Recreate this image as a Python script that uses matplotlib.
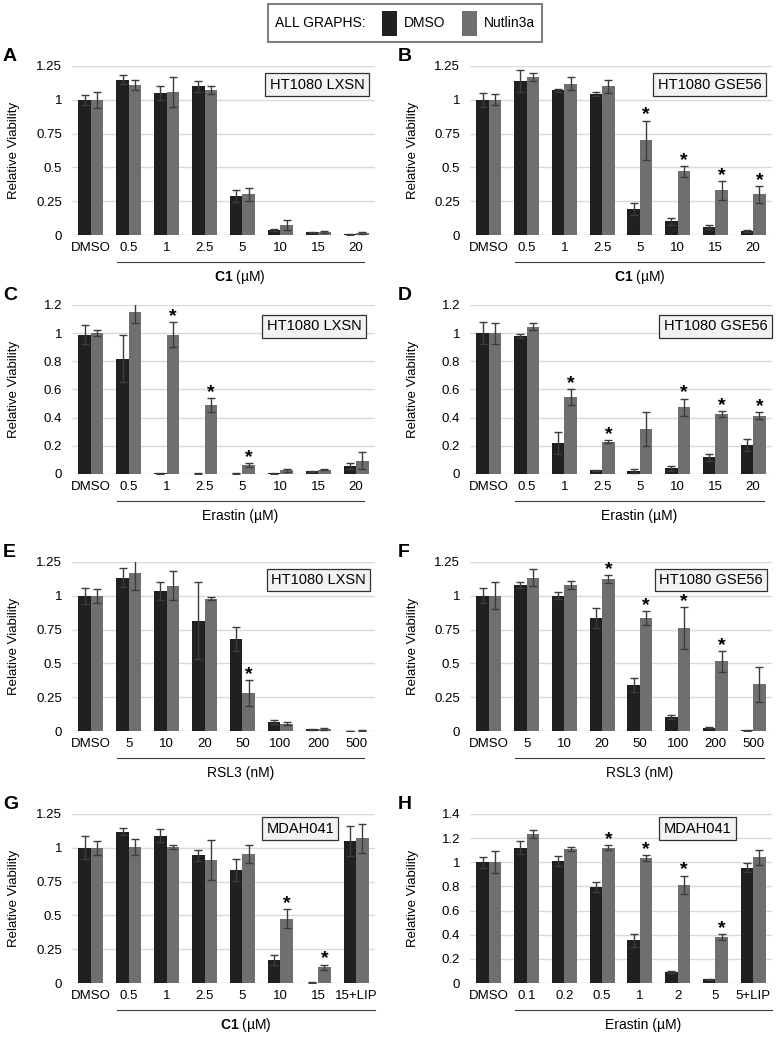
import numpy as np
import matplotlib
matplotlib.use('Agg')
import matplotlib.pyplot as plt
import matplotlib.transforms as mtransforms
from matplotlib.patches import Rectangle
from matplotlib.offsetbox import AnchoredOffsetbox, HPacker, TextArea, DrawingArea

plt.rcParams['font.family'] = ['Liberation Sans', 'DejaVu Sans']
plt.rcParams['mathtext.fontset'] = 'custom'
plt.rcParams['mathtext.rm'] = 'Liberation Sans'
plt.rcParams['mathtext.bf'] = 'Liberation Sans:bold'

DMSO_COLOR = '#202020'
NUT_COLOR = '#6f6f6f'
ERR_COLOR = '#3c3c3c'
GRID_COLOR = '#d9d9d9'

# %%
# categories
c1_cats = ['DMSO', '0.5', '1', '2.5', '5', '10', '15', '20']
erastin_cats = ['DMSO', '0.5', '1', '2.5', '5', '10', '15', '20']
rsl3_cats = ['DMSO', '5', '10', '20', '50', '100', '200', '500']
g_cats = ['DMSO', '0.5', '1', '2.5', '5', '10', '15', '15+LIP']
h_cats = ['DMSO', '0.1', '0.2', '0.5', '1', '2', '5', '5+LIP']

# A - C1, HT1080 LXSN
a_dmso = [1.00, 1.15, 1.05, 1.10, 0.29, 0.035, 0.02, 0.005]
a_dmso_err = [0.035, 0.03, 0.05, 0.04, 0.045, 0.008, 0.004, 0.003]
a_nut = [1.00, 1.11, 1.06, 1.07, 0.30, 0.075, 0.025, 0.015]
a_nut_err = [0.06, 0.04, 0.11, 0.03, 0.045, 0.035, 0.008, 0.008]
a_star = [0, 0, 0, 0, 0, 0, 0, 0]

# B - C1, HT1080 GSE56
b_dmso = [1.00, 1.14, 1.07, 1.04, 0.19, 0.10, 0.06, 0.03]
b_dmso_err = [0.05, 0.08, 0.01, 0.015, 0.045, 0.025, 0.012, 0.008]
b_nut = [1.00, 1.17, 1.12, 1.10, 0.70, 0.47, 0.33, 0.30]
b_nut_err = [0.04, 0.03, 0.05, 0.05, 0.145, 0.04, 0.07, 0.06]
b_star = [0, 0, 0, 0, 1, 1, 1, 1]

# C - Erastin, HT1080 LXSN
c_dmso = [0.99, 0.82, 0.005, 0.003, 0.003, 0.005, 0.02, 0.055]
c_dmso_err = [0.07, 0.165, 0.003, 0.002, 0.002, 0.002, 0.004, 0.02]
c_nut = [1.00, 1.15, 0.99, 0.49, 0.065, 0.025, 0.03, 0.095]
c_nut_err = [0.02, 0.08, 0.09, 0.05, 0.012, 0.01, 0.005, 0.06]
c_star = [0, 0, 1, 1, 1, 0, 0, 0]

# D - Erastin, HT1080 GSE56
d_dmso = [1.00, 0.98, 0.22, 0.025, 0.02, 0.04, 0.12, 0.205]
d_dmso_err = [0.08, 0.015, 0.075, 0.005, 0.015, 0.02, 0.025, 0.045]
d_nut = [1.00, 1.045, 0.545, 0.23, 0.32, 0.475, 0.425, 0.415]
d_nut_err = [0.075, 0.025, 0.055, 0.01, 0.12, 0.06, 0.02, 0.025]
d_star = [0, 0, 1, 1, 0, 1, 1, 1]

# E - RSL3, HT1080 LXSN
e_dmso = [1.00, 1.135, 1.035, 0.815, 0.68, 0.065, 0.012, 0.002]
e_dmso_err = [0.06, 0.07, 0.065, 0.285, 0.09, 0.015, 0.005, 0.001]
e_nut = [1.00, 1.165, 1.075, 0.98, 0.28, 0.055, 0.015, 0.003]
e_nut_err = [0.05, 0.12, 0.105, 0.01, 0.095, 0.012, 0.008, 0.002]
e_star = [0, 0, 0, 0, 1, 0, 0, 0]

# F - RSL3, HT1080 GSE56
f_dmso = [1.00, 1.08, 1.00, 0.835, 0.34, 0.105, 0.025, 0.005]
f_dmso_err = [0.055, 0.02, 0.025, 0.075, 0.055, 0.015, 0.005, 0.002]
f_nut = [1.00, 1.135, 1.08, 1.125, 0.835, 0.76, 0.515, 0.345]
f_nut_err = [0.10, 0.06, 0.03, 0.03, 0.05, 0.155, 0.075, 0.13]
f_star = [0, 0, 0, 1, 1, 1, 1, 0]

# G - C1, MDAH041
g_dmso = [1.00, 1.12, 1.09, 0.945, 0.835, 0.17, 0.003, 1.05]
g_dmso_err = [0.085, 0.025, 0.05, 0.04, 0.08, 0.04, 0.003, 0.11]
g_nut = [1.00, 1.005, 1.005, 0.91, 0.955, 0.475, 0.115, 1.07]
g_nut_err = [0.05, 0.06, 0.015, 0.15, 0.065, 0.07, 0.02, 0.105]
g_star = [0, 0, 0, 0, 0, 1, 1, 0]

# H - Erastin, MDAH041
h_dmso = [1.00, 1.12, 1.01, 0.795, 0.355, 0.09, 0.03, 0.955]
h_dmso_err = [0.045, 0.055, 0.04, 0.045, 0.055, 0.01, 0.005, 0.035]
h_nut = [1.00, 1.235, 1.11, 1.12, 1.035, 0.815, 0.38, 1.04]
h_nut_err = [0.09, 0.035, 0.015, 0.02, 0.025, 0.075, 0.025, 0.065]
h_star = [0, 0, 0, 1, 1, 1, 1, 0]

# %%
W, H = 776, 1038
fig = plt.figure(figsize=(W / 100, H / 100), dpi=100)

col_left = [72, 470]
col_w = [303, 302]
row_top = [66, 305, 562, 814]
ax_h = 169
letter_x = [3, 398]


def px_axes(x, y, w, h):
    return fig.add_axes([x / W, 1 - (y + h) / H, w / W, h / H])


def draw_panel(ax, cats, dmso, dmso_err, nut, nut_err, stars, ymax, ystep,
               box_label, box_xy, xlabel, bracket_end):
    x = np.arange(len(cats))
    bw = 0.33
    ax.bar(x - bw / 2, dmso, bw, color=DMSO_COLOR, zorder=2)
    ax.bar(x + bw / 2, nut, bw, color=NUT_COLOR, zorder=2)
    ax.errorbar(x - bw / 2, dmso, yerr=dmso_err, fmt='none', ecolor=ERR_COLOR,
                elinewidth=1, capsize=3, capthick=1, zorder=3)
    ax.errorbar(x + bw / 2, nut, yerr=nut_err, fmt='none', ecolor=ERR_COLOR,
                elinewidth=1, capsize=3, capthick=1, zorder=3)
    for i, s in enumerate(stars):
        if s:
            ax.annotate('*', (x[i] + bw / 2, nut[i] + nut_err[i]), xytext=(0, -2),
                        textcoords='offset points', ha='center', va='bottom',
                        fontsize=14, fontweight='bold', zorder=4)
    ax.set_xlim(-0.5, len(cats) - 0.5)
    ax.set_ylim(0, ymax)
    yt = np.arange(0, ymax + 1e-9, ystep)
    ax.set_yticks(yt, [f'{v:g}' for v in yt])
    ax.set_xticks(x, cats)
    ax.tick_params(axis='both', length=0, labelsize=9.5)
    ax.tick_params(axis='x', pad=5)
    ax.tick_params(axis='y', pad=7)
    for sp in ax.spines.values():
        sp.set_visible(False)
    ax.yaxis.grid(True, color=GRID_COLOR, lw=1)
    ax.set_axisbelow(True)
    ax.set_ylabel('Relative Viability', fontsize=9.5)
    ax.yaxis.set_label_coords(-0.17, 0.5)

    trans = mtransforms.blended_transform_factory(ax.transData, ax.transAxes)
    ax.plot([0.68, bracket_end], [-0.16, -0.16], transform=trans,
            color='#404040', lw=0.8, clip_on=False)
    ax.text((0.68 + bracket_end) / 2, -0.25, xlabel, transform=trans,
            ha='center', va='center', fontsize=10)

    ax.text(box_xy[0], box_xy[1], box_label, transform=ax.transAxes,
            ha='right', va='top', fontsize=10.5,
            bbox=dict(boxstyle='square,pad=0.3', fc='#f2f2f2', ec='#303030', lw=0.9))


panels = [
    ('A', 0, 0, c1_cats, a_dmso, a_dmso_err, a_nut, a_nut_err, a_star, 1.25, 0.25,
     'HT1080 LXSN', (0.965, 0.93), r'$\mathbf{C1}$ (µM)', 7.2),
    ('B', 1, 0, c1_cats, b_dmso, b_dmso_err, b_nut, b_nut_err, b_star, 1.25, 0.25,
     'HT1080 GSE56', (0.965, 0.93), r'$\mathbf{C1}$ (µM)', 7.3),
    ('C', 0, 1, erastin_cats, c_dmso, c_dmso_err, c_nut, c_nut_err, c_star, 1.2, 0.2,
     'HT1080 LXSN', (0.955, 0.915), 'Erastin (µM)', 7.2),
    ('D', 1, 1, erastin_cats, d_dmso, d_dmso_err, d_nut, d_nut_err, d_star, 1.2, 0.2,
     'HT1080 GSE56', (0.985, 0.915), 'Erastin (µM)', 7.3),
    ('E', 0, 2, rsl3_cats, e_dmso, e_dmso_err, e_nut, e_nut_err, e_star, 1.25, 0.25,
     'HT1080 LXSN', (0.97, 0.935), 'RSL3 (nM)', 7.2),
    ('F', 1, 2, rsl3_cats, f_dmso, f_dmso_err, f_nut, f_nut_err, f_star, 1.25, 0.25,
     'HT1080 GSE56', (0.97, 0.935), 'RSL3 (nM)', 7.3),
    ('G', 0, 3, g_cats, g_dmso, g_dmso_err, g_nut, g_nut_err, g_star, 1.25, 0.25,
     'MDAH041', (0.865, 0.955), r'$\mathbf{C1}$ (µM)', 7.5),
    ('H', 1, 3, h_cats, h_dmso, h_dmso_err, h_nut, h_nut_err, h_star, 1.4, 0.2,
     'MDAH041', (0.865, 0.955), 'Erastin (µM)', 7.5),
]

for (letter, col, row, cats, dm, dme, nu, nue, st, ymax, ystep,
     blabel, bxy, xlab, bend) in panels:
    ax = px_axes(col_left[col], row_top[row], col_w[col], ax_h)
    draw_panel(ax, cats, dm, dme, nu, nue, st, ymax, ystep, blabel, bxy, xlab, bend)
    fig.text(letter_x[col] / W, 1 - (row_top[row] - 1) / H, letter,
             fontsize=14, fontweight='bold', ha='left', va='bottom')

# legend box on top
def swatch(color):
    da = DrawingArea(11, 18, 0, 0)
    da.add_artist(Rectangle((0, 0), 11, 18, fc=color, ec='none'))
    return da

tp = dict(fontsize=10)
packer = HPacker(children=[
    TextArea('ALL GRAPHS:', textprops=tp),
    HPacker(children=[swatch(DMSO_COLOR), TextArea('DMSO', textprops=tp)], sep=5, align='center'),
    HPacker(children=[swatch(NUT_COLOR), TextArea('Nutlin3a', textprops=tp)], sep=5, align='center'),
], sep=12, align='center')
box = AnchoredOffsetbox(loc='center', child=packer, pad=0.5, borderpad=0, frameon=True,
                        bbox_to_anchor=(405 / W, 1 - 23 / H), bbox_transform=fig.transFigure)
box.patch.set_edgecolor('#808080')
box.patch.set_linewidth(1.5)
fig.add_artist(box)

fig.savefig('out.png', dpi=100)
